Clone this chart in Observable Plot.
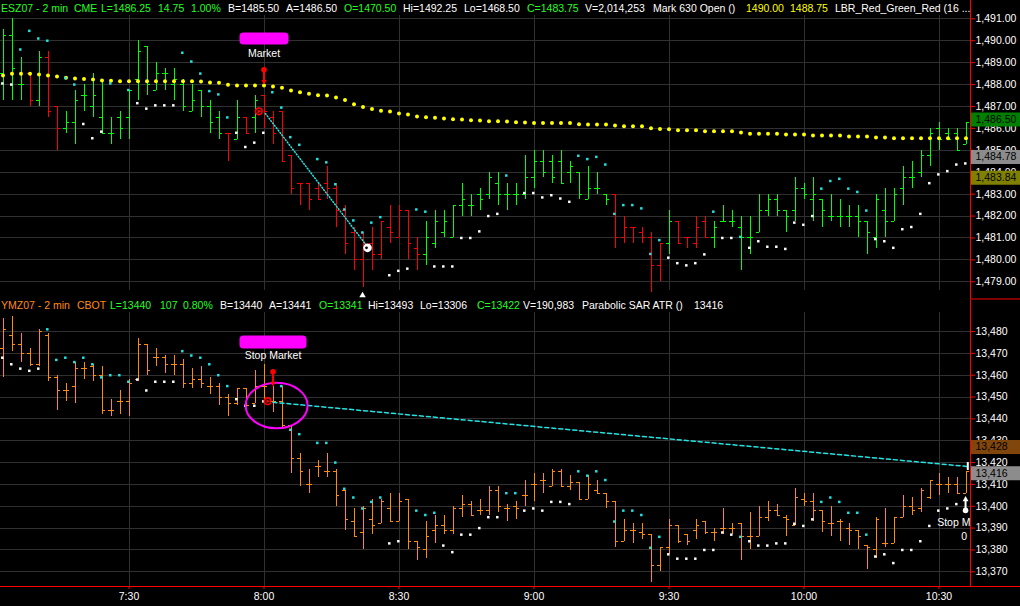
<!DOCTYPE html>
<html><head><meta charset="utf-8">
<script src="https://cdn.jsdelivr.net/npm/d3@7"></script>
<script src="https://cdn.jsdelivr.net/npm/@observablehq/plot@0.6"></script>
<style>
body{margin:0;background:#000;}
#wrap{position:relative;width:1020px;height:606px;overflow:hidden;background:#000;font-family:"Liberation Sans",Arial,sans-serif;}
#wrap svg{position:absolute;left:0;}
.hdr{position:absolute;font-size:10.5px;line-height:14px;white-space:nowrap;}
</style></head>
<body><div id="wrap"></div>
<script>
// ---------- DATA ----------
const firstMinute = 422; // 7:02, 2-minute bars
const xTicks = [450, 480, 510, 540, 570, 600, 630];
const xTickLabels = ["7:30", "8:00", "8:30", "9:00", "9:30", "10:00", "10:30"];
const esTicks = [1479,1480,1481,1482,1483,1484,1485,1486,1487,1488,1489,1490,1491];
const ymTicks = [13370,13380,13390,13400,13410,13420,13430,13440,13450,13460,13470,13480];

const esOpen = [1488.50,1490.25,1488.00,1488.50,1487.25,1489.25,1487.00,1486.00,1486.25,1487.50,
1487.00,1486.50,1485.75,1486.50,1486.50,1488.25,1489.75,1487.75,1488.50,1488.00,
1488.00,1486.75,1487.75,1487.00,1486.50,1485.75,1485.50,1486.50,1486.50,1487.50,
1486.50,1486.75,1484.75,1483.50,1483.50,1483.25,1483.50,1483.25,1482.25,1481.25,
1480.00,1480.75,1480.25,1481.50,1481.00,1482.25,1480.50,1480.25,1480.75,1481.25,
1481.00,1482.50,1482.50,1483.00,1483.00,1483.50,1483.00,1483.00,1483.00,1483.75,
1484.50,1484.50,1484.50,1484.00,1484.00,1482.75,1483.25,1483.00,1483.00,1481.00,
1481.50,1481.25,1481.00,1479.75,1480.75,1481.75,1481.00,1480.75,1481.75,1481.00,
1481.75,1481.75,1481.50,1481.00,1481.25,1482.25,1482.75,1482.25,1482.25,1483.25,
1482.75,1482.75,1482.00,1482.00,1482.00,1482.00,1481.75,1481.00,1482.25,1481.75,
1483.25,1483.75,1484.00,1484.75,1486.00,1485.75,1485.75,1485.25];
const esHigh = [1490.50,1491.00,1489.25,1488.50,1489.50,1489.50,1487.00,1486.75,1487.75,1488.00,
1488.50,1488.25,1486.50,1486.75,1487.75,1490.00,1489.75,1489.00,1488.75,1488.75,
1488.25,1488.00,1487.75,1487.25,1486.75,1485.75,1487.25,1486.50,1487.50,1487.50,
1486.75,1486.75,1484.75,1483.50,1483.50,1483.50,1484.25,1483.50,1482.50,1481.50,
1481.25,1481.50,1481.75,1482.50,1482.50,1482.25,1481.00,1481.75,1482.25,1482.25,
1482.50,1483.50,1483.00,1483.25,1484.00,1484.00,1483.50,1483.50,1484.75,1485.00,
1485.00,1484.75,1485.00,1484.50,1484.00,1484.25,1484.00,1483.00,1483.00,1482.00,
1481.50,1481.50,1481.25,1480.75,1482.25,1481.75,1481.00,1482.00,1482.00,1481.75,
1482.50,1482.25,1482.00,1482.00,1483.00,1483.00,1483.00,1482.25,1483.75,1483.50,
1483.75,1482.75,1483.00,1482.75,1482.50,1482.50,1481.75,1483.00,1483.25,1483.25,
1484.25,1484.50,1485.00,1486.00,1486.25,1486.00,1486.00,1486.25];
const esLow = [1487.25,1487.25,1487.25,1487.00,1487.00,1486.50,1485.00,1485.75,1485.25,1486.75,
1486.50,1485.75,1485.25,1485.50,1485.50,1487.25,1487.50,1487.75,1487.75,1487.25,
1486.75,1486.75,1486.50,1485.75,1485.50,1484.50,1485.50,1485.75,1485.75,1486.00,
1485.25,1484.50,1483.00,1482.50,1482.25,1482.75,1482.75,1481.50,1480.25,1479.50,
1478.75,1479.50,1480.00,1480.75,1481.00,1480.00,1479.50,1479.75,1480.50,1481.00,
1481.00,1482.00,1482.00,1482.25,1482.75,1482.50,1482.25,1482.50,1482.75,1483.25,
1483.75,1483.50,1483.50,1483.50,1482.75,1482.75,1483.00,1482.50,1480.50,1480.75,
1480.75,1480.75,1478.50,1479.00,1480.25,1480.75,1480.50,1480.50,1481.00,1480.50,
1481.75,1481.50,1479.50,1480.25,1481.25,1482.00,1482.00,1481.25,1481.75,1482.75,
1481.75,1481.50,1481.75,1481.50,1481.50,1481.00,1480.25,1480.50,1481.00,1481.75,
1482.50,1483.25,1483.75,1484.25,1485.00,1485.50,1485.00,1485.25];
const esClose = [1490.25,1488.75,1488.00,1487.25,1489.25,1486.75,1486.00,1486.25,1487.25,1487.50,
1487.50,1485.75,1485.75,1486.00,1487.75,1489.50,1488.00,1488.50,1488.50,1488.25,
1487.00,1487.25,1487.00,1486.25,1485.75,1485.75,1486.50,1485.75,1487.25,1486.75,
1485.75,1484.50,1483.25,1483.50,1482.75,1482.75,1483.25,1482.25,1480.75,1480.00,
1480.75,1480.25,1481.75,1481.25,1482.25,1480.75,1480.25,1481.00,1481.75,1481.75,
1482.50,1482.75,1482.50,1482.75,1483.75,1483.00,1483.00,1483.00,1483.75,1484.50,
1484.00,1483.75,1483.50,1484.25,1483.00,1483.25,1483.25,1482.75,1481.00,1481.50,
1481.50,1481.00,1479.75,1480.75,1481.75,1480.75,1481.00,1481.50,1481.00,1481.50,
1481.75,1481.75,1481.00,1481.00,1482.25,1482.75,1482.25,1482.00,1483.25,1483.00,
1483.00,1482.25,1482.00,1482.00,1482.00,1481.75,1481.25,1482.75,1481.75,1483.00,
1483.75,1483.75,1484.75,1485.75,1485.50,1485.50,1485.00,1486.25];
// g = green bar, r = red bar (LBR_Red_Green_Red)
const esBarColor = ("gggrgrr" + "gggggggggggggggggg" + "rgrg" + "rrrrrrrrrrrrrrrrrr" +
  "ggggggggggggggggggggg" + "rrrrrr" + "g" + "rrrr" + "ggggggggggggggggggggggggggggg").split("");
const esAverage = [1488.41,1488.49,1488.49,1488.49,1488.46,1488.41,1488.37,1488.31,1488.28,1488.25,
1488.23,1488.18,1488.17,1488.15,1488.15,1488.15,1488.15,1488.15,1488.15,1488.15,
1488.15,1488.15,1488.14,1488.09,1488.08,1487.99,1487.96,1487.96,1487.96,1487.96,
1487.91,1487.85,1487.73,1487.65,1487.58,1487.51,1487.50,1487.41,1487.29,1487.10,
1486.97,1486.88,1486.81,1486.77,1486.68,1486.63,1486.54,1486.51,1486.49,1486.45,
1486.42,1486.40,1486.37,1486.36,1486.33,1486.33,1486.31,1486.28,1486.27,1486.24,
1486.24,1486.24,1486.24,1486.24,1486.19,1486.18,1486.18,1486.18,1486.13,1486.10,
1486.10,1486.10,1486.01,1485.97,1485.96,1485.92,1485.92,1485.92,1485.87,1485.87,
1485.87,1485.87,1485.81,1485.76,1485.76,1485.76,1485.76,1485.72,1485.72,1485.72,
1485.67,1485.67,1485.67,1485.67,1485.63,1485.63,1485.63,1485.58,1485.58,1485.55,
1485.55,1485.55,1485.55,1485.55,1485.55,1485.55,1485.55,1485.55];
const esSar = [1488.05,1488.0,1489.6,1490.45,1490.1,1490.0,null,1488.3,1488.0,1486.2,
1485.55,1485.85,1488.05,null,1487.75,1487.15,1486.9,1487.05,1487.05,1487.05,
1489.45,1489.05,1488.5,1487.7,1487.55,1486.5,1485.8,1485.15,1485.35,1485.8,
1487.65,1486.95,1485.6,1485.25,null,1484.6,1484.45,1483.45,1482.3,1481.8,
1481.25,1481.7,1481.95,1479.3,1479.5,1479.6,1482.3,1482.2,1479.7,1479.7,
1479.7,1481.0,1481.0,1481.3,1482.0,1482.1,1483.85,null,1483.05,1483.05,
1482.85,1482.95,1482.8,1482.65,1484.75,1484.6,1484.7,1484.35,1482.1,1482.5,
1482.5,1482.35,1480.27,1480.9,1480.1,1479.85,1479.75,1479.85,1480.25,1482.2,
1481.0,1481.0,1481.05,1480.55,1480.85,1480.6,1480.6,1480.5,1481.7,1481.6,
1482.0,1483.25,1483.6,1483.7,1483.25,1483.1,1482.25,1480.95,1480.85,1480.55,
1481.4,1481.5,1482.1,1483.5,1483.9,1484.05,1484.35,1484.4];
// c = cyan (short side), w = white (long side)
const esSarSide = ("wwcccc-ccw" + "wwc-cwwwww" + "ccccccwwww" + "cccc-ccccc" + "cccwwwccww" +
  "wwwwwwc-ww" + "wwwwcccccc" + "ccccwwwwwc" + "wwcwwwwwww" + "wccccccwww" + "wwwwwwww").split("");

const ymOpen = [13472,13478,13474,13470,13465,13478,13459,13453,13455,13463,
13464,13460,13444,13448,13448,13458,13474,13468,13468,13465,
13465,13456,13458,13455,13455,13450,13447,13454,13447,13455,
13448,13448,13437,13422,13410,13418,13416,13416,13407,13393,
13388,13394,13392,13399,13393,13403,13384,13380,13389,13391,
13389,13399,13401,13398,13398,13407,13399,13400,13405,13410,
13412,13409,13416,13409,13411,13403,13407,13406,13402,13384,
13389,13388,13387,13373,13381,13391,13387,13389,13393,13388,
13390,13390,13392,13386,13386,13395,13398,13395,13391,13403,
13402,13398,13392,13393,13390,13389,13382,13380,13383,13383,
13395,13400,13399,13404,13410,13410,13410,13406];
const ymHigh = [13486,13487,13479,13472,13481,13479,13460,13456,13466,13466,
13465,13464,13449,13453,13458,13477,13474,13472,13469,13469,
13467,13463,13464,13459,13456,13451,13454,13454,13462,13465,
13455,13455,13437,13424,13417,13421,13424,13417,13407,13399,
13400,13403,13403,13406,13406,13403,13384,13393,13396,13396,
13400,13405,13402,13403,13409,13409,13401,13402,13412,13415,
13415,13417,13417,13414,13411,13414,13412,13406,13402,13394,
13392,13392,13387,13381,13394,13391,13387,13394,13393,13390,
13399,13392,13392,13397,13400,13402,13401,13396,13408,13406,
13406,13398,13400,13394,13392,13389,13382,13395,13399,13395,
13405,13404,13408,13412,13415,13413,13413,13416];
const ymLow = [13459,13471,13466,13464,13464,13457,13444,13448,13447,13458,
13457,13442,13441,13442,13441,13457,13460,13464,13461,13460,
13454,13454,13454,13451,13446,13441,13446,13446,13447,13447,
13443,13436,13415,13409,13406,13413,13413,13400,13389,13386,
13380,13387,13392,13393,13393,13380,13375,13376,13383,13387,
13387,13395,13396,13396,13396,13397,13393,13394,13400,13402,
13406,13409,13409,13407,13403,13403,13406,13399,13381,13384,
13383,13385,13365,13370,13378,13383,13382,13385,13387,13384,
13387,13387,13375,13380,13386,13393,13396,13386,13391,13400,
13393,13388,13386,13384,13382,13380,13371,13376,13381,13383,
13395,13396,13397,13403,13405,13406,13406,13406];
const ymClose = [13481,13474,13470,13465,13480,13459,13453,13453,13463,13463,
13460,13444,13444,13448,13456,13474,13462,13468,13465,13465,
13456,13458,13456,13455,13450,13447,13454,13446,13455,13455,
13448,13437,13422,13416,13410,13418,13416,13405,13394,13386,
13399,13391,13402,13393,13402,13384,13381,13386,13391,13389,
13399,13401,13396,13398,13407,13400,13399,13399,13405,13410,
13412,13416,13409,13411,13403,13410,13406,13402,13384,13389,
13389,13387,13373,13381,13391,13384,13384,13391,13388,13388,
13390,13390,13386,13386,13395,13398,13396,13394,13404,13402,
13398,13393,13392,13393,13389,13386,13381,13394,13383,13395,
13400,13398,13407,13412,13410,13410,13406,13416];
const ymSar = [13468,13465,13463,13462,13463,13481,13467,13468,13466,13468,
13465,13459,13460,13460,13457,13458,13453,13457,13457,13457,
13471,13469,13468,13465,13460,13455,13449,13446,13446,13448,
null,13455,13435,13433,null,13429,13429,13420,13408,13404,
13399,13402,13404,13383,13384,null,13398,13396,13397,13382,
13379,13387,13387,13390,13395,13395,13406,13406,13398,13399,
13398,13402,13402,13401,13416,13414,13416,13412,13393,13398,
13398,13396,13381,13386,13378,13376,13376,13376,13380,13380,
13388,13387,13386,13384,13382,13382,13383,13383,13392,13391,
13394,13402,13404,13402,13397,13397,13387,13377,13378,13374,
13380,13380,13384,13391,13398,13399,13401,null];
const ymSarSide = ("wwwwwccccc" + "cccccwwwww" + "ccccccwwww" + "-ccc-ccccc" + "cccww-cccw" +
  "wwwwwwccww" + "wwwwcccccc" + "ccccwwwwww" + "wwcwwwwwww" + "wccccccwww" + "wwwwwww-").split("");

// trades / annotations (minute of day, price)
const esTradeMinute = [480.3, 503];
const esTradePrice = [1486.68, 1480.6];
const esEntryMarker = [478.85, 1486.78];
const esExitMarker = [503, 1480.55];
const esExitArrow = [501.9, 1478.38];
const esOrderPin = [480, 1488.67, 1488.14];
const esOrderLabel = [480, 1490.10, 1489.42, "Market"];
const ymTradeMinute = [482, 636.4];
const ymTradePrice = [13447.6, 13418.2];
const ymEntryMarker = [480.8, 13448.1];
const ymHighlight = [482.8, 13446.1];
const ymOrderPin = [482, 13461.6, 13456.3];
const ymOrderLabel = [482, 13475.2, 13469.0, "Stop Market"];
const ymEndMark = [636.4, 13420.0, 13416.4];
const ymStopPin = [635.9, 13403.1, 13398.1];
const ymStopText = [629.6, 13392.4, "Stop Market"];
const ymStopQty = [635.6, 13386.2, "0"];

const esTagValues = [1486.50, 1484.78, 1483.84];
const esTagColors = ["#008000", "#8c8c8c", "#808000"];
const ymTagValues = [13428, 13416];
const ymTagColors = ["#80460c", "#8c8c8c"];

const esHeaderText = ["ESZ07 - 2 min","CME","L=1486.25","14.75","1.00%","B=1485.50","A=1486.50","O=1470.50","Hi=1492.25","Lo=1468.50","C=1483.75","V=2,014,253","Mark 630 Open ()","1490.00","1488.75","LBR_Red_Green_Red (16 ..."];
const esHeaderTone = ["g","g","g","g","g","w","w","g","w","w","g","w","w","y","y","w"];
const ymHeaderText = ["YMZ07 - 2 min","CBOT","L=13440","107","0.80%","B=13440","A=13441","O=13341","Hi=13493","Lo=13306","C=13422","V=190,983","Parabolic SAR ATR ()","13416"];
const ymHeaderTone = ["o","o","g","g","g","w","w","g","w","w","g","w","w","w"];

// ---------- LAYOUT ----------
const W = 1020, plotRight = 970, pxPerMinute = 4.5, FS = 10.5;
const GREEN = "#00ff00", RED = "#ff0000", ORANGE = "#ff8a10", CYAN = "#22e4e4", GRID = "#303030", MAGENTA = "#ff00ff";
const toneColor = {g: "#22ff22", w: "#ffffff", y: "#ffff00", o: "#ff8a10"};
const FONT = "'Liberation Sans', Arial, sans-serif";
const xDomain = [firstMinute - 2.5 / pxPerMinute, firstMinute - 2.5 / pxPerMinute + plotRight / pxPerMinute];
const xS = d3.scaleLinear(xDomain, [0, plotRight]);
const topY = d3.scaleLinear([1479, 1491], [281.3, 18.3]);
const botY = d3.scaleLinear([13370, 13480], [271.3, 31]);
const tickLen = 3 / pxPerMinute;

const minutes = esOpen.map((_, i) => firstMinute + 2 * i);
const esBars = esOpen.map((o, i) => ({t: minutes[i], open: o, high: esHigh[i], low: esLow[i], close: esClose[i], color: esBarColor[i] === "r" ? RED : GREEN}));
const ymBars = ymOpen.map((o, i) => ({t: minutes[i], open: o, high: ymHigh[i], low: ymLow[i], close: ymClose[i], color: ORANGE}));
const esAvg = esAverage.map((v, i) => ({t: minutes[i], v}));
const esSarPts = esSar.map((v, i) => ({t: minutes[i], v, c: esSarSide[i] === "c" ? CYAN : "#ffffff"})).filter(d => d.v != null);
const ymSarPts = ymSar.map((v, i) => ({t: minutes[i], v, c: ymSarSide[i] === "c" ? CYAN : "#ffffff"})).filter(d => d.v != null);

function roundRect(w, h, r) {
  return {draw(ctx) {
    const x0 = -w / 2, x1 = w / 2, y0 = -h / 2, y1 = h / 2;
    ctx.moveTo(x0 + r, y0);
    ctx.lineTo(x1 - r, y0); ctx.arcTo(x1, y0, x1, y0 + r, r);
    ctx.lineTo(x1, y1 - r); ctx.arcTo(x1, y1, x1 - r, y1, r);
    ctx.lineTo(x0 + r, y1); ctx.arcTo(x0, y1, x0, y1 - r, r);
    ctx.lineTo(x0, y0 + r); ctx.arcTo(x0, y0, x0 + r, y0, r);
    ctx.closePath();
  }};
}
function ellipse(rx, ry) {
  const k = 0.5523;
  return {draw(ctx) {
    ctx.moveTo(rx, 0);
    ctx.bezierCurveTo(rx, ry * k, rx * k, ry, 0, ry);
    ctx.bezierCurveTo(-rx * k, ry, -rx, ry * k, -rx, 0);
    ctx.bezierCurveTo(-rx, -ry * k, -rx * k, -ry, 0, -ry);
    ctx.bezierCurveTo(rx * k, -ry, rx, -ry * k, rx, 0);
    ctx.closePath();
  }};
}

function barMarks(bars) {
  return [
    Plot.ruleX(bars, {x: "t", y1: "low", y2: "high", stroke: "color", shapeRendering: "crispEdges"}),
    Plot.ruleY(bars, {y: "open", x1: d => d.t - tickLen, x2: "t", stroke: "color", shapeRendering: "crispEdges"}),
    Plot.ruleY(bars, {y: "close", x1: "t", x2: d => d.t + tickLen, stroke: "color", shapeRendering: "crispEdges"})
  ];
}
function pinMarks(p, color, up) {
  const [t, head, base] = p;
  return [
    Plot.ruleX([t], {x: d => d, y1: head, y2: base, stroke: color, strokeWidth: 2}),
    Plot.dot([t], {x: d => d, y: head, r: up ? 2.2 : 2.8, fill: color, symbol: up ? "triangle" : "circle"}),
    Plot.dot([t], {x: d => d, y: base, r: up ? 2.8 : 2, fill: color, symbol: up ? "circle" : "triangle", rotate: up ? 0 : 180})
  ];
}
const chartStyle = {background: "transparent", color: "white", fontFamily: FONT, fontSize: FS + "px", overflow: "visible"};

// ---------- TOP PANEL (ESZ07) ----------
const topChart = Plot.plot({
  width: W, height: 300, marginLeft: 0, marginRight: W - plotRight, marginTop: 15, marginBottom: 10,
  style: chartStyle,
  x: {type: "linear", domain: xDomain, axis: null},
  y: {type: "linear", domain: topY.domain(), range: topY.range()},
  color: {type: "identity"},
  marks: [
    Plot.gridY(esTicks, {stroke: GRID, strokeOpacity: 1, shapeRendering: "crispEdges"}),
    Plot.gridX(xTicks, {stroke: GRID, strokeOpacity: 1, shapeRendering: "crispEdges"}),
    ...barMarks(esBars),
    Plot.dot(esAvg, {x: "t", y: "v", r: 2, fill: "#ffff00"}),
    Plot.dot(esSarPts, {x: "t", y: "v", symbol: "square", r: 1.4, fill: "c", dx: -0.7}),
    Plot.line(esTradeMinute.map((t, i) => ({t, p: esTradePrice[i]})), {x: "t", y: "p", stroke: CYAN, strokeDasharray: "1,2"}),
    Plot.dot([esEntryMarker], {x: d => d[0], y: d => d[1], r: 3.3, stroke: RED, strokeWidth: 1.6, fill: "none"}),
    Plot.dot([esEntryMarker], {x: d => d[0], y: d => d[1], r: 1.6, fill: RED, symbol: "triangle", rotate: 90}),
    Plot.dot([esExitMarker], {x: d => d[0], y: d => d[1], r: 4.3, fill: "white"}),
    Plot.dot([esExitMarker], {x: d => d[0], y: d => d[1], r: 1.4, fill: "black", dx: -1}),
    Plot.dot([esExitArrow], {x: d => d[0], y: d => d[1], r: 2.4, fill: "white", symbol: "triangle"}),
    ...pinMarks(esOrderPin, RED, false),
    Plot.dot([esOrderLabel], {x: d => d[0], y: d => d[1], r: 1, symbol: roundRect(49, 12, 4), fill: MAGENTA}),
    Plot.text([esOrderLabel], {x: d => d[0], y: d => d[2], text: d => d[3], fill: "white", fontSize: FS}),
    Plot.axisY(esTicks, {anchor: "right", tickSize: 4, tickPadding: 1, stroke: RED, fill: "white", fontSize: FS, label: null, tickFormat: d3.format(",.2f")}),
    Plot.ruleX([xDomain[1]], {x: d => d, y1: topY.invert(0), y2: topY.invert(299), stroke: RED}),
    Plot.ruleY([topY.invert(298.5)], {y: d => d, x1: xDomain[1], x2: xS.invert(W), stroke: RED}),
    Plot.ruleY(esTagValues.map((v, i) => ({v, c: esTagColors[i]})), {y: "v", x1: xS.invert(971), x2: xS.invert(W), stroke: "c", strokeWidth: 14, dy: 2}),
    Plot.text(esTagValues, {x: xS.invert(975), y: d => d, text: d3.format(",.2f"), fill: "black", textAnchor: "start", dy: 2, fontSize: FS})
  ]
});
topChart.style.top = "0px";

// ---------- BOTTOM PANEL (YMZ07) ----------
const bottomChart = Plot.plot({
  width: W, height: 306, marginLeft: 0, marginRight: W - plotRight, marginTop: 12, marginBottom: 20,
  style: chartStyle,
  x: {type: "linear", domain: xDomain},
  y: {type: "linear", domain: botY.domain(), range: botY.range()},
  color: {type: "identity"},
  marks: [
    Plot.gridY(ymTicks, {stroke: GRID, strokeOpacity: 1, shapeRendering: "crispEdges"}),
    Plot.gridX(xTicks, {stroke: GRID, strokeOpacity: 1, shapeRendering: "crispEdges"}),
    ...barMarks(ymBars),
    Plot.dot(ymSarPts, {x: "t", y: "v", symbol: "square", r: 1.4, fill: "c", dx: -0.7}),
    Plot.line(ymTradeMinute.map((t, i) => ({t, p: ymTradePrice[i]})), {x: "t", y: "p", stroke: CYAN, strokeDasharray: "4,3"}),
    Plot.dot([ymHighlight], {x: d => d[0], y: d => d[1], r: 1, symbol: ellipse(31, 22.7), fill: "none", stroke: MAGENTA, strokeWidth: 2}),
    Plot.dot([ymEntryMarker], {x: d => d[0], y: d => d[1], r: 3.3, stroke: RED, strokeWidth: 1.6, fill: "none"}),
    Plot.dot([ymEntryMarker], {x: d => d[0], y: d => d[1], r: 1.6, fill: RED, symbol: "triangle", rotate: 90}),
    ...pinMarks(ymOrderPin, RED, false),
    Plot.dot([ymOrderLabel], {x: d => d[0], y: d => d[1], r: 1, symbol: roundRect(67, 13, 4), fill: MAGENTA}),
    Plot.text([ymOrderLabel], {x: d => d[0], y: d => d[2], text: d => d[3], fill: "white", fontSize: FS}),
    Plot.ruleX([ymEndMark], {x: d => d[0], y1: d => d[1], y2: d => d[2], stroke: "white", strokeWidth: 2}),
    ...pinMarks(ymStopPin, "white", true),
    Plot.text([ymStopText], {x: d => d[0], y: d => d[1], text: d => d[2], fill: "white", textAnchor: "start", fontSize: FS, clip: true}),
    Plot.text([ymStopQty], {x: d => d[0], y: d => d[1], text: d => d[2], fill: "white", fontSize: FS}),
    Plot.axisY(ymTicks, {anchor: "right", tickSize: 4, tickPadding: 1, stroke: RED, fill: "white", fontSize: FS, label: null, tickFormat: d3.format(",")}),
    Plot.axisX(xTicks, {anchor: "bottom", tickSize: 3, tickPadding: 3, stroke: RED, fill: "white", fontSize: FS, label: null, tickFormat: d => xTickLabels[xTicks.indexOf(d)]}),
    Plot.ruleX([xDomain[1]], {x: d => d, y1: botY.invert(0), y2: botY.invert(286), stroke: RED}),
    Plot.ruleY([botY.invert(286)], {y: d => d, x1: xDomain[0], x2: xS.invert(W), stroke: RED}),
    Plot.ruleY(ymTagValues.map((v, i) => ({v, c: ymTagColors[i]})), {y: "v", x1: xS.invert(971), x2: xS.invert(W), stroke: "c", strokeWidth: 14, dy: 2}),
    Plot.text(ymTagValues, {x: xS.invert(975), y: d => d, text: d3.format(","), fill: "black", textAnchor: "start", dy: 2, fontSize: FS})
  ]
});
bottomChart.style.top = "300px";

const wrap = document.getElementById("wrap");
wrap.appendChild(topChart);
wrap.appendChild(bottomChart);

// ---------- HEADERS ----------
const esHeaderX = [1,74,101,158,191,228,286,344,403,464,527,585,653,746,790,835];
const ymHeaderX = [1,77,110,160,183,220,269,319,368,420,477,523,582,694];
function header(texts, tones, xs, topPx) {
  texts.forEach((t, i) => {
    const s = document.createElement("div");
    s.className = "hdr";
    s.textContent = t;
    s.style.left = xs[i] + "px";
    s.style.top = topPx + "px";
    s.style.color = toneColor[tones[i]];
    wrap.appendChild(s);
  });
}
header(esHeaderText, esHeaderTone, esHeaderX, 1);
header(ymHeaderText, ymHeaderTone, ymHeaderX, 298);
</script>
</body></html>
